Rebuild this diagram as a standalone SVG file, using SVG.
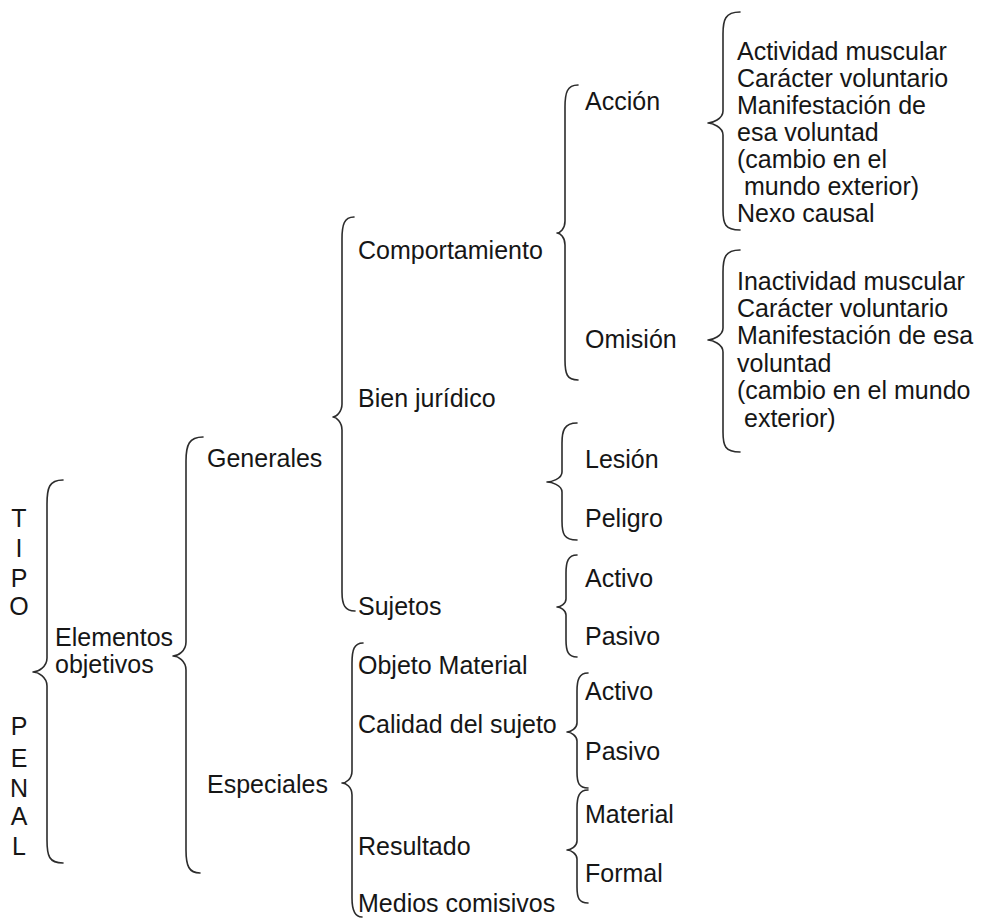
<svg xmlns="http://www.w3.org/2000/svg" width="984" height="920" viewBox="0 0 984 920">
  <style>
    text { font-family: "Liberation Sans", Arial, sans-serif; font-size: 25px; fill: #161616; }
    .v { text-anchor: middle; }
    .brace { fill: none; stroke: #2c2c2c; stroke-width: 1.6; stroke-linecap: round; stroke-linejoin: round; }
  </style>
  <rect width="984" height="920" fill="#ffffff"/>

  <!-- braces: line x, end x, tip x, top y, tip y, bottom y -->
  <g id="connectors">
    <!-- TIPO PENAL -> Elementos objetivos -->
    <path class="brace" d="M63 480 C49 480 47 488 47 504 L47 658 C47 667 38 672 33 672 C38 672 47 677 47 686 L47 840 C47 856 49 863 63 863"/>
    <!-- Elementos objetivos -> Generales / Especiales -->
    <path class="brace" d="M203 437 C189 437 186 445 186 461 L186 642 C186 651 178 656 173 656 C178 656 186 661 186 670 L186 850 C186 866 189 873 200 873"/>
    <!-- Generales -->
    <path class="brace" d="M354 217 C344 217 342 225 342 239 L342 404 C342 412 336 417 333 417 C336 417 342 422 342 430 L342 592 C342 605 345 611 355 611"/>
    <!-- Especiales -->
    <path class="brace" d="M363 643 C354 643 352 650 352 663 L352 771 C352 779 346 783 342 783 C346 783 352 787 352 795 L352 898 C352 911 355 917 362 917"/>
    <!-- Comportamiento -> Acción / Omisión -->
    <path class="brace" d="M578 85 C567 85 565 93 565 107 L565 221 C565 229 560 233 557 233 C560 233 565 237 565 245 L565 360 C565 374 567 380 578 380"/>
    <!-- Acción -->
    <path class="brace" d="M740 12 C725 12 723 20 723 34 L723 111 C723 119 712 123 708 123 C712 123 723 127 723 135 L723 210 C723 224 725 230 740 230"/>
    <!-- Omisión -->
    <path class="brace" d="M740 250 C725 250 723 258 723 272 L723 328 C723 336 712 340 708 340 C712 340 723 344 723 352 L723 432 C723 446 725 452 740 452"/>
    <!-- Bien jurídico: Lesión / Peligro -->
    <path class="brace" d="M577 423 C564 423 562 431 562 443 L562 472 C562 479 551 482 547 482 C551 482 562 485 562 492 L562 521 C562 534 564 540 577 540"/>
    <!-- Sujetos: Activo / Pasivo -->
    <path class="brace" d="M577 555 C568 555 566 562 566 573 L566 599 C566 604 560 607 557 607 C560 607 566 610 566 615 L566 640 C566 651 568 657 577 657"/>
    <!-- Calidad del sujeto: Activo / Pasivo -->
    <path class="brace" d="M588 673 C579 673 577 680 577 691 L577 723 C577 728 571 732 567 732 C571 732 577 736 577 741 L577 772 C577 783 579 788 588 788"/>
    <!-- Resultado: Material / Formal -->
    <path class="brace" d="M588 790 C579 790 577 797 577 808 L577 841 C577 846 571 850 567 850 C571 850 577 854 577 859 L577 887 C577 898 579 903 588 903"/>
  </g>

  <g id="tipo-penal">
    <text class="v" x="19" y="527">T</text>
    <text class="v" x="19" y="557">I</text>
    <text class="v" x="19" y="587">P</text>
    <text class="v" x="19" y="615">O</text>
    <text class="v" x="19" y="735">P</text>
    <text class="v" x="19" y="767">E</text>
    <text class="v" x="19" y="797">N</text>
    <text class="v" x="19" y="825">A</text>
    <text class="v" x="19" y="855">L</text>
  </g>

  <g id="elementos-objetivos">
    <text x="55" y="646">Elementos</text>
    <text x="55" y="673">objetivos</text>
  </g>

  <g id="generales"><text x="207" y="467">Generales</text></g>
  <g id="especiales"><text x="207" y="793">Especiales</text></g>

  <g id="comportamiento"><text x="358" y="259">Comportamiento</text></g>
  <g id="bien-juridico"><text x="358" y="407">Bien jurídico</text></g>
  <g id="sujetos"><text x="358" y="615">Sujetos</text></g>
  <g id="objeto-material"><text x="358" y="674">Objeto Material</text></g>
  <g id="calidad-sujeto"><text x="358" y="733">Calidad del sujeto</text></g>
  <g id="resultado"><text x="358" y="855">Resultado</text></g>
  <g id="medios-comisivos"><text x="358" y="912">Medios comisivos</text></g>

  <g id="accion"><text x="585" y="110">Acción</text></g>
  <g id="omision"><text x="585" y="348">Omisión</text></g>

  <g id="lesion"><text x="585" y="468">Lesión</text></g>
  <g id="peligro"><text x="585" y="527">Peligro</text></g>
  <g id="sujeto-activo"><text x="585" y="587">Activo</text></g>
  <g id="sujeto-pasivo"><text x="585" y="645">Pasivo</text></g>
  <g id="calidad-activo"><text x="585" y="700">Activo</text></g>
  <g id="calidad-pasivo"><text x="585" y="760">Pasivo</text></g>
  <g id="material"><text x="585" y="823">Material</text></g>
  <g id="formal"><text x="585" y="882">Formal</text></g>

  <g id="accion-detalle">
    <text x="737" y="60">Actividad muscular</text>
    <text x="737" y="87">Carácter voluntario</text>
    <text x="737" y="114">Manifestación de</text>
    <text x="737" y="141">esa voluntad</text>
    <text x="737" y="168">(cambio en el</text>
    <text x="744" y="195">mundo exterior)</text>
    <text x="737" y="222">Nexo causal</text>
  </g>

  <g id="omision-detalle">
    <text x="737" y="290">Inactividad muscular</text>
    <text x="737" y="317">Carácter voluntario</text>
    <text x="737" y="344">Manifestación de esa</text>
    <text x="737" y="372">voluntad</text>
    <text x="737" y="399">(cambio en el mundo</text>
    <text x="744" y="427">exterior)</text>
  </g>
</svg>
